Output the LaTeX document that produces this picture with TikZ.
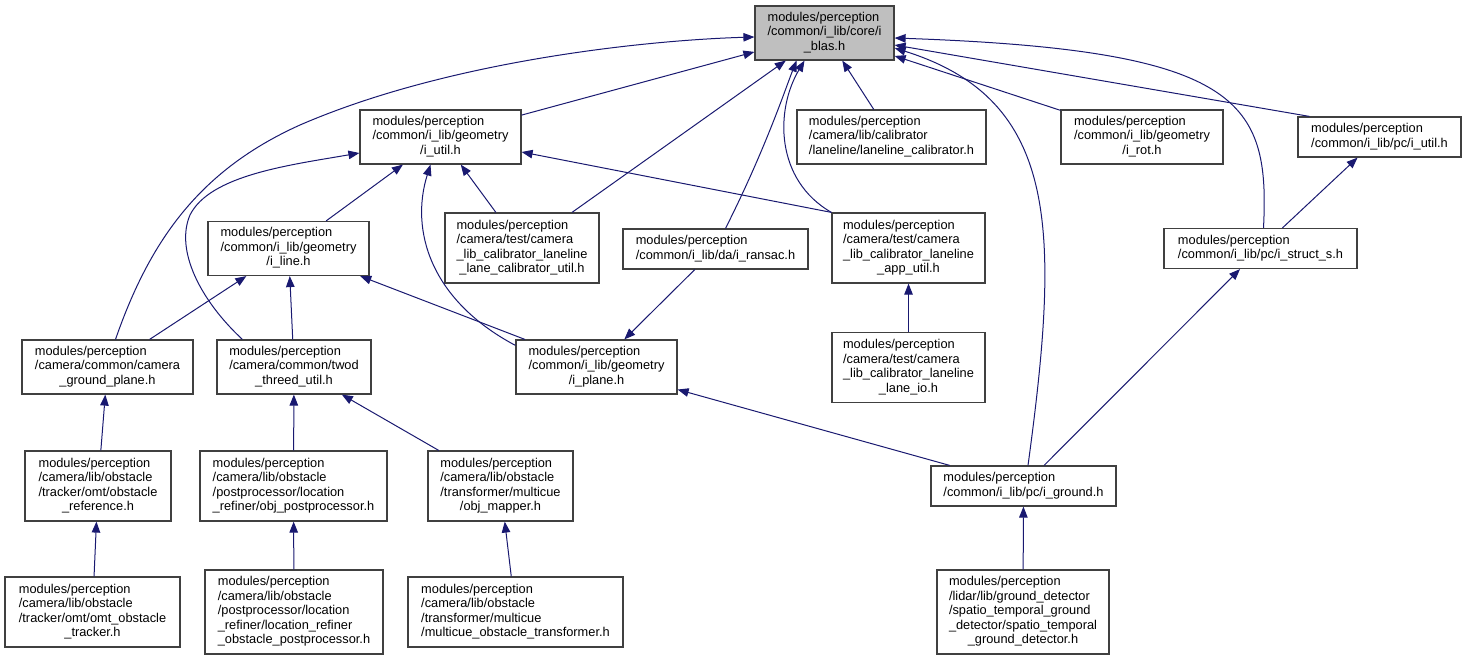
\documentclass[tikz,border=0pt]{standalone}
\usepackage{fontspec}
\setmainfont{Liberation Sans}
\usetikzlibrary{arrows.meta,calc}
\definecolor{edgeblue}{RGB}{25,25,112}
\definecolor{boxline}{RGB}{64,64,64}
\definecolor{rootfill}{RGB}{191,191,191}
\newcommand{\flines}[2]{\begin{tabular}{@{}l@{}}#1\\\multicolumn{1}{@{}c@{}}{#2}\end{tabular}}
\tikzset{
  filebox/.style={draw=boxline, line width=1.2pt, fill=white, inner sep=0pt,
    font=\fontsize{12.8}{14.5}\selectfont},
  dep/.style={draw=edgeblue, line width=1pt, -{Triangle[length=11pt,width=8.5pt]}, fill=none},
}
\begin{document}
\begin{tikzpicture}[x=1pt,y=-1pt]
\useasboundingbox (0,0) rectangle (1466,660);
% nodes
\node[filebox, fill=rootfill, minimum width=139pt, minimum height=54pt] (blas) at (824.5,33) {\flines{modules/perception\\/common/i\_lib/core/i}{\_blas.h}};
\node[filebox, minimum width=161pt, minimum height=54pt] (iutil) at (440.5,137) {\flines{modules/perception\\/common/i\_lib/geometry}{/i\_util.h}};
\node[filebox, minimum width=189pt, minimum height=54pt] (lanecal) at (891.5,137) {\flines{modules/perception\\/camera/lib/calibrator}{/laneline/laneline\_calibrator.h}};
\node[filebox, minimum width=162pt, minimum height=54pt] (irot) at (1142,137) {\flines{modules/perception\\/common/i\_lib/geometry}{/i\_rot.h}};
\node[filebox, minimum width=163pt, minimum height=40pt] (pcutil) at (1379.5,137) {\flines{modules/perception}{/common/i\_lib/pc/i\_util.h}};
\node[filebox, minimum width=193pt, minimum height=40pt] (struct) at (1260.5,248.5) {\flines{modules/perception}{/common/i\_lib/pc/i\_struct\_s.h}};
\node[filebox, minimum width=161pt, minimum height=54pt] (iline) at (288.5,248.5) {\flines{modules/perception\\/common/i\_lib/geometry}{/i\_line.h}};
\node[filebox, minimum width=154pt, minimum height=70pt] (lcu) at (522,248) {\flines{modules/perception\\/camera/test/camera\\\_lib\_calibrator\_laneline}{\_lane\_calibrator\_util.h}};
\node[filebox, minimum width=185pt, minimum height=40pt] (ransac) at (715.5,249) {\flines{modules/perception}{/common/i\_lib/da/i\_ransac.h}};
\node[filebox, minimum width=153pt, minimum height=70pt] (appu) at (908.5,248) {\flines{modules/perception\\/camera/test/camera\\\_lib\_calibrator\_laneline}{\_app\_util.h}};
\node[filebox, minimum width=153pt, minimum height=70pt] (laneio) at (908.5,367.5) {\flines{modules/perception\\/camera/test/camera\\\_lib\_calibrator\_laneline}{\_lane\_io.h}};
\node[filebox, minimum width=171pt, minimum height=54pt] (cgp) at (107.5,367) {\flines{modules/perception\\/camera/common/camera}{\_ground\_plane.h}};
\node[filebox, minimum width=154pt, minimum height=54pt] (twod) at (294,367) {\flines{modules/perception\\/camera/common/twod}{\_threed\_util.h}};
\node[filebox, minimum width=161pt, minimum height=54pt] (iplane) at (596.5,367) {\flines{modules/perception\\/common/i\_lib/geometry}{/i\_plane.h}};
\node[filebox, minimum width=146pt, minimum height=70pt] (oref) at (98,486) {\flines{modules/perception\\/camera/lib/obstacle\\/tracker/omt/obstacle}{\_reference.h}};
\node[filebox, minimum width=187pt, minimum height=70pt] (objpost) at (293.5,486) {\flines{modules/perception\\/camera/lib/obstacle\\/postprocessor/location}{\_refiner/obj\_postprocessor.h}};
\node[filebox, minimum width=145pt, minimum height=70pt] (objmap) at (500.5,486) {\flines{modules/perception\\/camera/lib/obstacle\\/transformer/multicue}{/obj\_mapper.h}};
\node[filebox, minimum width=185pt, minimum height=40pt] (ground) at (1023.5,486) {\flines{modules/perception}{/common/i\_lib/pc/i\_ground.h}};
\node[filebox, minimum width=175pt, minimum height=70pt] (omt) at (92.5,612) {\flines{modules/perception\\/camera/lib/obstacle\\/tracker/omt/omt\_obstacle}{\_tracker.h}};
\node[filebox, minimum width=178pt, minimum height=84pt] (locref) at (294,612) {\flines{modules/perception\\/camera/lib/obstacle\\/postprocessor/location\\\_refiner/location\_refiner}{\_obstacle\_postprocessor.h}};
\node[filebox, minimum width=215pt, minimum height=70pt] (multicue) at (515.5,612) {\flines{modules/perception\\/camera/lib/obstacle\\/transformer/multicue}{/multicue\_obstacle\_transformer.h}};
\node[filebox, minimum width=172pt, minimum height=84pt] (spatio) at (1023,612) {\flines{modules/perception\\/lidar/lib/ground\_detector\\/spatio\_temporal\_ground\\\_detector/spatio\_temporal}{\_ground\_detector.h}};
% straight edges
\draw[dep] (iutil) -- (blas);
\draw[dep] (lcu) -- (blas);
\draw[dep] ($(ransac.north)+(10,0)$) .. controls (765,150) and (785,90) .. ($(blas.south)+(-28,0)$);
\draw[dep] (lanecal) -- (blas);
\draw[dep] (irot) -- (blas);
\draw[dep] ($(pcutil.north west)+(12,0)$) -- ($(blas.east)+(0,12)$);
\draw[dep] (iline) -- (iutil);
\draw[dep] (lcu) -- (iutil);
\draw[dep] (appu.north west) -- ($(iutil.east)+(0,15)$);
\draw[dep] (cgp) -- (iline);
\draw[dep] (twod) -- (iline);
\draw[dep] (iplane) -- (iline);
\draw[dep] (ransac) -- (iplane);
\draw[dep] (laneio) -- (appu);
\draw[dep] (struct) -- (pcutil);
\draw[dep] (ground) -- (struct);
\draw[dep] (ground) -- (iplane);
\draw[dep] (spatio) -- (ground);
\draw[dep] (oref) -- (cgp);
\draw[dep] (objpost) -- (twod);
\draw[dep] (objmap) -- (twod);
\draw[dep] (omt) -- (oref);
\draw[dep] (locref) -- (objpost);
\draw[dep] (multicue) -- (objmap);
% curved edges
\draw[dep] ($(cgp.north)+(8,0)$) .. controls (150,240) and (200,170) .. (300,125) .. controls (450,60) and (650,40) .. ($(blas.west)+(0,4)$);
\draw[dep] ($(twod.north west)+(26,0)$) .. controls (200,300) and (175,250) .. (190,215) .. controls (210,175) and (290,165) .. ($(iutil.west)+(0,16)$);
\draw[dep] ($(iplane.north west)+(0,6)$) .. controls (430,300) and (410,230) .. ($(iutil.south)+(-10,0)$);
\draw[dep] (appu.north west) .. controls (775,180) and (775,110) .. ($(blas.south)+(-20,0)$);
\draw[dep] ($(struct.north)+(3,0)$) .. controls (1270,100) and (1240,50) .. ($(blas.east)+(0,5)$);
\draw[dep] ($(ground.north)+(4.5,0)$) .. controls (1060,230) and (1060,100) .. ($(blas.east)+(0,15)$);
\end{tikzpicture}
\end{document}
